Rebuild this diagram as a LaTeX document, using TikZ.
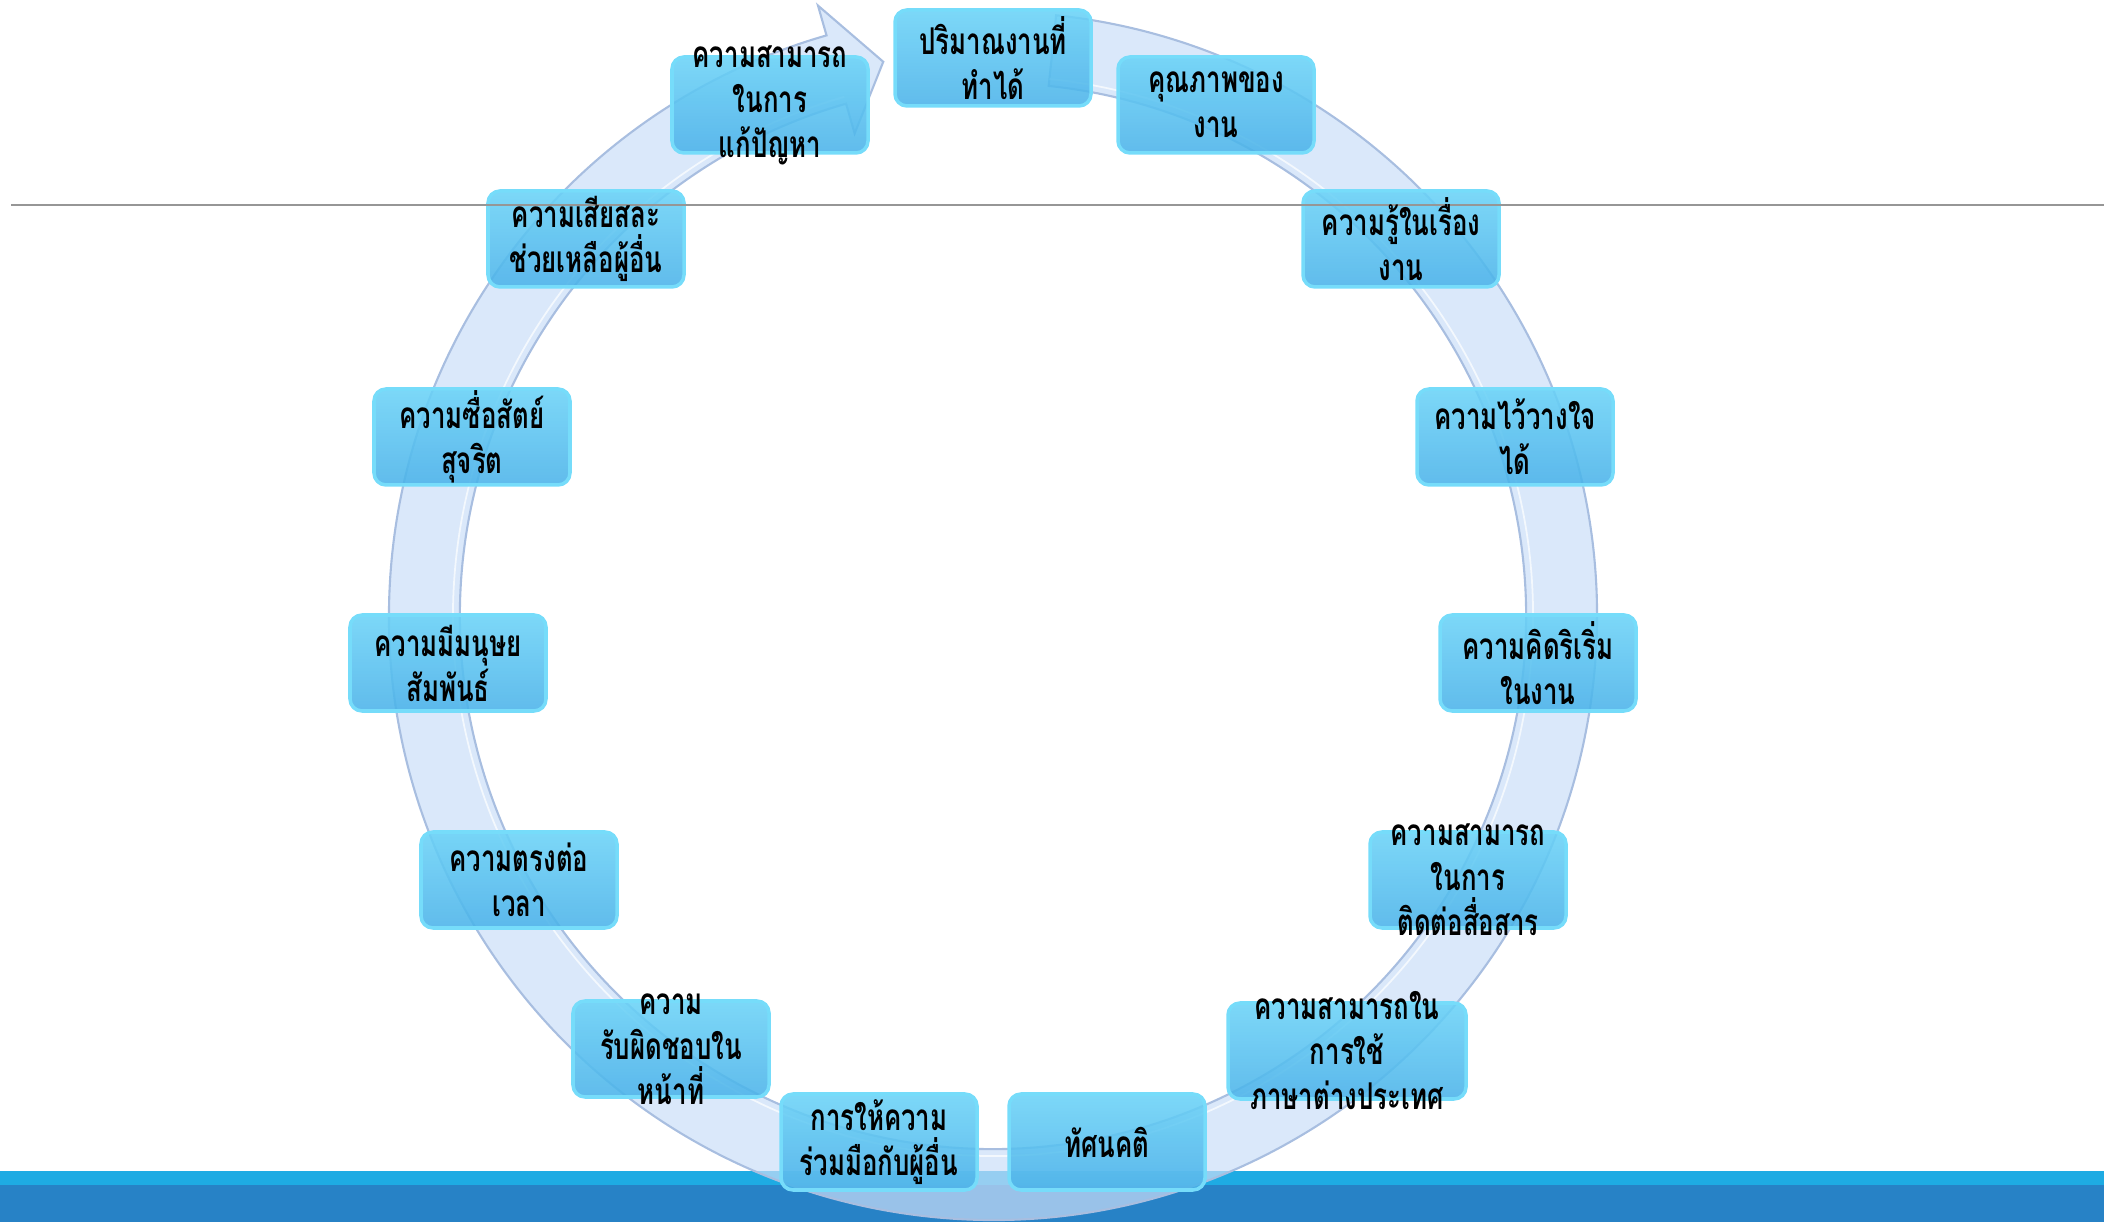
\documentclass[tikz,border=0pt]{standalone}
\usepackage{fontspec}
\newfontfamily\thaifont[Script=Thai,FakeStretch=0.7]{Loma}

\definecolor{ringfill}{RGB}{202,222,248}
\definecolor{ringedge}{RGB}{168,190,224}
\definecolor{boxtop}{RGB}{106,210,247}
\definecolor{boxbot}{RGB}{74,178,233}
\definecolor{boxedge}{RGB}{118,220,250}
\definecolor{barlight}{RGB}{30,171,227}
\definecolor{bardark}{RGB}{39,130,198}
\definecolor{rulegrey}{RGB}{150,150,150}

\tikzset{
  ring/.style={fill=ringfill, fill opacity=0.7, draw=ringedge, line width=0.6pt},
  skillbox/.style={rounded corners=0.12cm, minimum width=1.96cm, minimum height=0.96cm,
    inner sep=0pt, top color=boxtop, bottom color=boxbot, draw=boxedge,
    line width=1pt, fill opacity=0.88},
  skilltext/.style={font=\thaifont\bfseries\fontsize{10.5}{12.8}\selectfont,
    align=center, text=black, inner sep=0pt},
}

\begin{document}
\begin{tikzpicture}
\useasboundingbox (0,0) rectangle (21.04,-12.22);

% bands at the foot
\fill[barlight] (0,-11.71) rectangle (21.04,-11.85);
\fill[bardark] (0,-11.85) rectangle (21.04,-12.22);

% circular arrow
\begin{scope}[shift={(9.93,-6.16)}]
\filldraw[ring] (84:6.04) arc[start angle=84, end angle=-254, radius=6.04]
  -- (-254:6.35) -- (-258.8:5.65) -- (-254:5.02) -- (-254:5.33)
  arc[start angle=-254, end angle=84, radius=5.33] -- cycle;
\draw[white, line width=0.5pt, opacity=0.7] (84:5.40) arc[start angle=84, end angle=-254, radius=5.40];
\end{scope}

% boxes round the ring
\foreach \x/\y/\w [count=\i] in {
  9.93/0.58/1.96, 12.16/1.05/1.96, 14.01/2.39/1.96, 15.15/4.37/1.96,
  15.38/6.63/1.96, 14.68/8.80/1.96, 13.47/10.51/2.38, 11.07/11.42/1.96,
  8.79/11.42/1.96, 6.71/10.49/1.96, 5.19/8.80/1.96, 4.48/6.63/1.96,
  4.72/4.37/1.96, 5.86/2.39/1.96, 7.70/1.05/1.96}
  \node[skillbox, minimum width=\w cm] (box\i) at (\x,-\y) {};

% the rule across the page
\draw[rulegrey, line width=0.6pt] (0.11,-2.05) -- (21.04,-2.05);

% texts on top
\foreach \t [count=\i] in {
  {ปริมาณงานที่\\ทำได้}, {คุณภาพของ\\งาน}, {ความรู้ในเรื่อง\\งาน},
  {ความไว้วางใจ\\ได้}, {ความคิดริเริ่ม\\ในงาน},
  {ความสามารถ\\ในการ\\ติดต่อสื่อสาร}, {ความสามารถใน\\การใช้\\ภาษาต่างประเทศ},
  {ทัศนคติ}, {การให้ความ\\ร่วมมือกับผู้อื่น}, {ความ\\รับผิดชอบใน\\หน้าที่},
  {ความตรงต่อ\\เวลา}, {ความมีมนุษย\\สัมพันธ์}, {ความซื่อสัตย์\\สุจริต},
  {ความเสียสละ\\ช่วยเหลือผู้อื่น}, {ความสามารถ\\ในการ\\แก้ปัญหา}}
  \node[skilltext] (txt\i) at (box\i) {\t};
\end{tikzpicture}
\end{document}
